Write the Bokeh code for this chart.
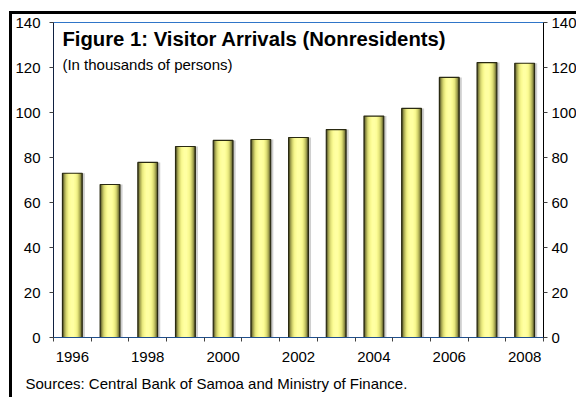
from bokeh.plotting import figure
from bokeh.models import Range1d, LinearAxis, FixedTicker, Label, ColumnDataSource, Title
from bokeh.transform import dodge
from bokeh.embed import file_html
from bokeh.resources import INLINE

# ---- data ----
years = [1996, 1997, 1998, 1999, 2000, 2001, 2002, 2003, 2004, 2005, 2006, 2007, 2008]
arrivals = [73.0, 68.0, 77.8, 84.9, 87.6, 88.0, 88.9, 92.4, 98.4, 101.8, 115.6, 122.2, 121.9]
x_tick_labels = [1996, 1998, 2000, 2002, 2004, 2006, 2008]
y_ticks = [0, 20, 40, 60, 80, 100, 120, 140]
title_text = "Figure 1: Visitor Arrivals (Nonresidents)"
subtitle_text = "(In thousands of persons)"
source_text = "Sources: Central Bank of Samoa and Ministry of Finance."

FONT = "Liberation Sans"
src = ColumnDataSource(dict(year=years, value=arrivals))

x0, x1 = years[0] - 0.5, years[-1] + 0.5
p = figure(width=567, height=386, x_range=Range1d(x0, x1), y_range=Range1d(y_ticks[0], y_ticks[-1]),
           output_backend="svg", toolbar_location=None,
           min_border_left=39, min_border_right=33, min_border_top=8, min_border_bottom=63)
p.styles = {"border-left": "3px solid #000", "border-top": "3px solid #000",
            "margin-left": "9px", "margin-top": "11px"}
p.xgrid.visible = False
p.ygrid.visible = False
p.outline_line_color = "#2f75c8"
p.outline_line_width = 1
p.background_fill_color = "white"

bar_w = 0.525
# shadow
p.vbar(x=dodge("year", 0.07, range=p.x_range), top="value", width=bar_w, source=src,
       fill_color="#cfcfcf", line_color=None)
# gradient layers
layers = [(1.0, "#4a4a22"), (0.92, "#7c7c3c"), (0.82, "#a9a954"), (0.70, "#cdcd6a"),
          (0.58, "#e7e77e"), (0.45, "#f6f68d"), (0.32, "#fdfd99"), (0.18, "#ffffa2")]
for i, (f, c) in enumerate(layers):
    p.vbar(x="year", top="value", width=bar_w * f, source=src, fill_color=c,
           line_color=None)
p.vbar(x="year", top="value", width=bar_w, source=src, fill_color=None,
       line_color="#2a2a12", line_width=1.2)

boundaries = [y - 0.5 for y in years] + [years[-1] + 0.5]
xa = p.xaxis[0]
xa.ticker = FixedTicker(ticks=x_tick_labels, minor_ticks=boundaries)
xa.major_tick_out = 0
xa.major_tick_in = 0
xa.minor_tick_out = 4
xa.minor_tick_in = 0
xa.minor_tick_line_color = "#404040"
xa.axis_line_color = "#1f4e8c"
xa.major_label_text_font = FONT
xa.major_label_text_font_size = "15px"
xa.major_label_text_color = "#000"
xa.major_label_standoff = 10

ya = p.yaxis[0]
ya.ticker = FixedTicker(ticks=y_ticks)
ya.major_tick_out = 4
ya.major_tick_in = 0
ya.minor_tick_out = 0
ya.major_tick_line_color = "#404040"
ya.axis_line_color = "#0f2040"
ya.major_label_text_font = FONT
ya.major_label_text_font_size = "15px"
ya.major_label_text_color = "#000"
ya.major_label_standoff = 9

ra = LinearAxis(ticker=FixedTicker(ticks=y_ticks))
ra.major_tick_out = 4
ra.major_tick_in = 0
ra.minor_tick_out = 0
ra.major_tick_line_color = "#404040"
ra.axis_line_color = "#000000"
ra.major_label_text_font = FONT
ra.major_label_text_font_size = "15px"
ra.major_label_text_color = "#000"
ra.major_label_standoff = 4
p.add_layout(ra, "right")

p.add_layout(Label(x=1995.736, y=127.9, text=title_text, text_font=FONT, text_font_size="20.3px",
                   text_font_style="bold", text_color="#000"))
p.add_layout(Label(x=1995.736, y=117.4, text=subtitle_text, text_font=FONT, text_font_size="15px",
                   text_color="#000"))
p.add_layout(Title(text=source_text, align="left", text_font=FONT, text_font_size="15px",
                   text_font_style="normal", text_color="#000", offset=-28, standoff=17), "below")

open("out.html", "w").write(file_html(p, INLINE))
